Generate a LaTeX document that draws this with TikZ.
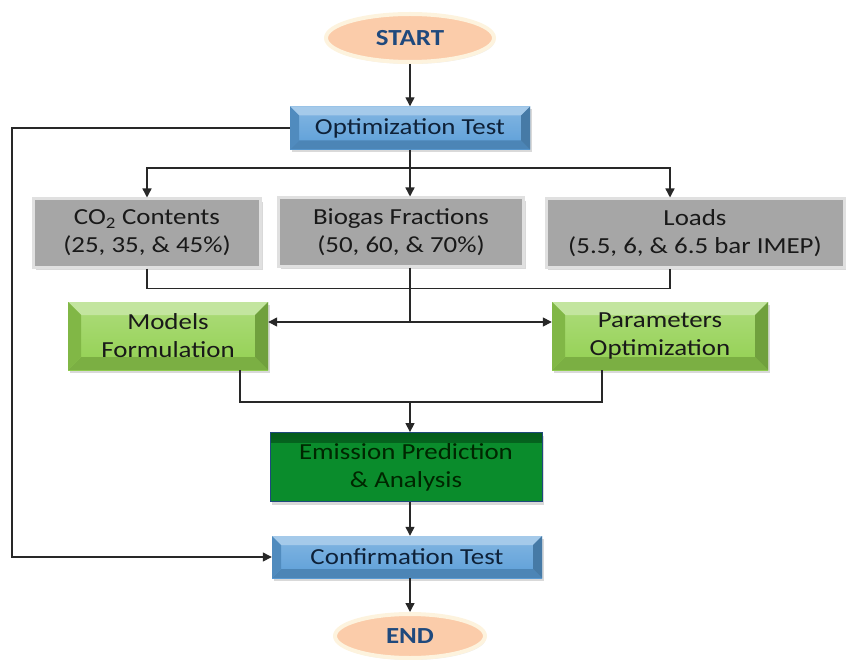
\documentclass[tikz,border=0pt]{standalone}
\usepackage{fontspec}
\setmainfont{Carlito}[FakeStretch=1.17]
\usetikzlibrary{arrows.meta,shapes.geometric,shadows}

\definecolor{peach}{RGB}{251,204,170}
\definecolor{glow}{RGB}{253,243,222}
\definecolor{navytxt}{RGB}{31,73,125}
\definecolor{bluebase}{RGB}{91,158,216}
\definecolor{grnbase}{RGB}{146,208,80}
\definecolor{boxgray}{RGB}{166,166,166}
\definecolor{emisgreen}{RGB}{10,140,44}
\definecolor{emistop}{RGB}{4,92,28}
\definecolor{linegray}{RGB}{40,40,40}

% bevelled faces of a box: light top, side faces, dark bottom
\newcommand{\bevelpp}[4]{%
  \fill[#1] (path picture bounding box.north west) -- (path picture bounding box.north east)
    -- ([shift={(-#4,-#4)}]path picture bounding box.north east)
    -- ([shift={(#4,-#4)}]path picture bounding box.north west) -- cycle;
  \fill[#3] (path picture bounding box.south west) -- (path picture bounding box.south east)
    -- ([shift={(-#4,#4)}]path picture bounding box.south east)
    -- ([shift={(#4,#4)}]path picture bounding box.south west) -- cycle;
  \fill[#2] (path picture bounding box.north west) -- ([shift={(#4,-#4)}]path picture bounding box.north west)
    -- ([shift={(#4,#4)}]path picture bounding box.south west)
    -- (path picture bounding box.south west) -- cycle;
  \fill[#2!70!#3] (path picture bounding box.north east) -- ([shift={(-#4,-#4)}]path picture bounding box.north east)
    -- ([shift={(-#4,#4)}]path picture bounding box.south east)
    -- (path picture bounding box.south east) -- cycle;
}

\begin{document}
\begin{tikzpicture}[>={Triangle[width=9pt,length=9pt]},x=1pt,y=-1pt,
  term/.style={ellipse,fill=peach,draw=glow,line width=4pt,inner sep=0pt,
               font=\fontsize{23}{28}\selectfont\bfseries,text=navytxt,
               drop shadow={shadow xshift=1pt,shadow yshift=-2pt,opacity=.15}},
  bevel/.style n args={2}{top color=#1!75!white,bottom color=#1,
               path picture={\bevelpp{#1!55!white}{#1!88!black}{#1!84!black}{#2}}},
  test/.style={bevel={bluebase}{9pt},minimum height=43pt,
               font=\fontsize{23}{28}\selectfont,text=navytxt!45!black,
               drop shadow={shadow xshift=2pt,shadow yshift=-3pt,opacity=.3}},
  model/.style={bevel={grnbase}{13pt},minimum height=68pt,
               align=center,font=\fontsize{23}{28}\selectfont,text=black!90,
               drop shadow={shadow xshift=2pt,shadow yshift=-3pt,opacity=.3}},
  factor/.style={fill=boxgray,draw=black!12,line width=3pt,minimum height=68pt,
               align=center,font=\fontsize{23}{28}\selectfont,text=black!90,
               drop shadow={shadow xshift=2pt,shadow yshift=-3pt,opacity=.3}},
  wire/.style={draw=linegray,line width=1.4pt}]
\useasboundingbox (0,0) rectangle (853,660);

\node[term,minimum width=168pt,minimum height=48pt] (start) at (410,38) {START};
\node[test,minimum width=240pt] (opt) at (410,128) {Optimization Test};

\node[factor,minimum width=227pt] (co2) at (147,233) {CO\textsubscript{2} Contents\\(25, 35, \& 45\%)};
\node[factor,minimum width=245pt] (bio) at (401,232) {Biogas Fractions\\(50, 60, \& 70\%)};
\node[factor,minimum width=298pt] (loads) at (695,233) {Loads\\(5.5, 6, \& 6.5 bar IMEP)};

\node[model,minimum width=200pt] (models) at (168,336) {Models\\Formulation};
\node[model,minimum width=216pt] (params) at (660,336) {Parameters\\Optimization};

\node[fill=emisgreen,draw=navytxt,line width=.8pt,minimum width=272pt,minimum height=69pt,
      align=center,font=\fontsize{23}{28}\selectfont,text=black!85!green,
      path picture={\shade[top color=emistop,bottom color=emisgreen]
        (path picture bounding box.north west) rectangle ([yshift=-10pt]path picture bounding box.north east);},
      drop shadow={shadow xshift=2pt,shadow yshift=-3pt,opacity=.3}]
  (emis) at (406,467) {Emission Prediction\\\& Analysis};
\node[test,minimum width=270pt,minimum height=42pt] (conf) at (407,557) {Confirmation Test};
\node[term,minimum width=150pt,minimum height=44pt] (finish) at (410,636) {END};

% main spine
\draw[wire,->] (start) -- (opt);
\coordinate (split) at (410,168);
\coordinate (hub) at (410,322);
\coordinate (join) at (410,402);
\draw[wire] (opt.south) -- (split);
\draw[wire,->] (split) -| (co2.north);
\draw[wire,->] (split) -- (split |- bio.north);
\draw[wire,->] (split) -| ([xshift=-25pt]loads.north);

% collect the three factors
\draw[wire] (co2.south) -- ++(0,20) -| ([xshift=-25pt]loads.south);
\draw[wire] (hub |- bio.south) -- (hub);
\draw[wire,->] (hub) -- (models.east |- hub);
\draw[wire,->] (hub) -- (params.west |- hub);

% models and parameters into prediction
\draw[wire] ([xshift=72pt]models.south) |- (join) -| ([xshift=-58pt]params.south);
\draw[wire,->] (join) -- (join |- emis.north);
\draw[wire,->] (join |- emis.south) -- (join |- conf.north);
\draw[wire,->] (join |- conf.south) -- (finish);

% feedback from optimization to confirmation
\draw[wire,->] (opt.west) -- ++(-278,0) |- (conf.west);
\end{tikzpicture}
\end{document}
